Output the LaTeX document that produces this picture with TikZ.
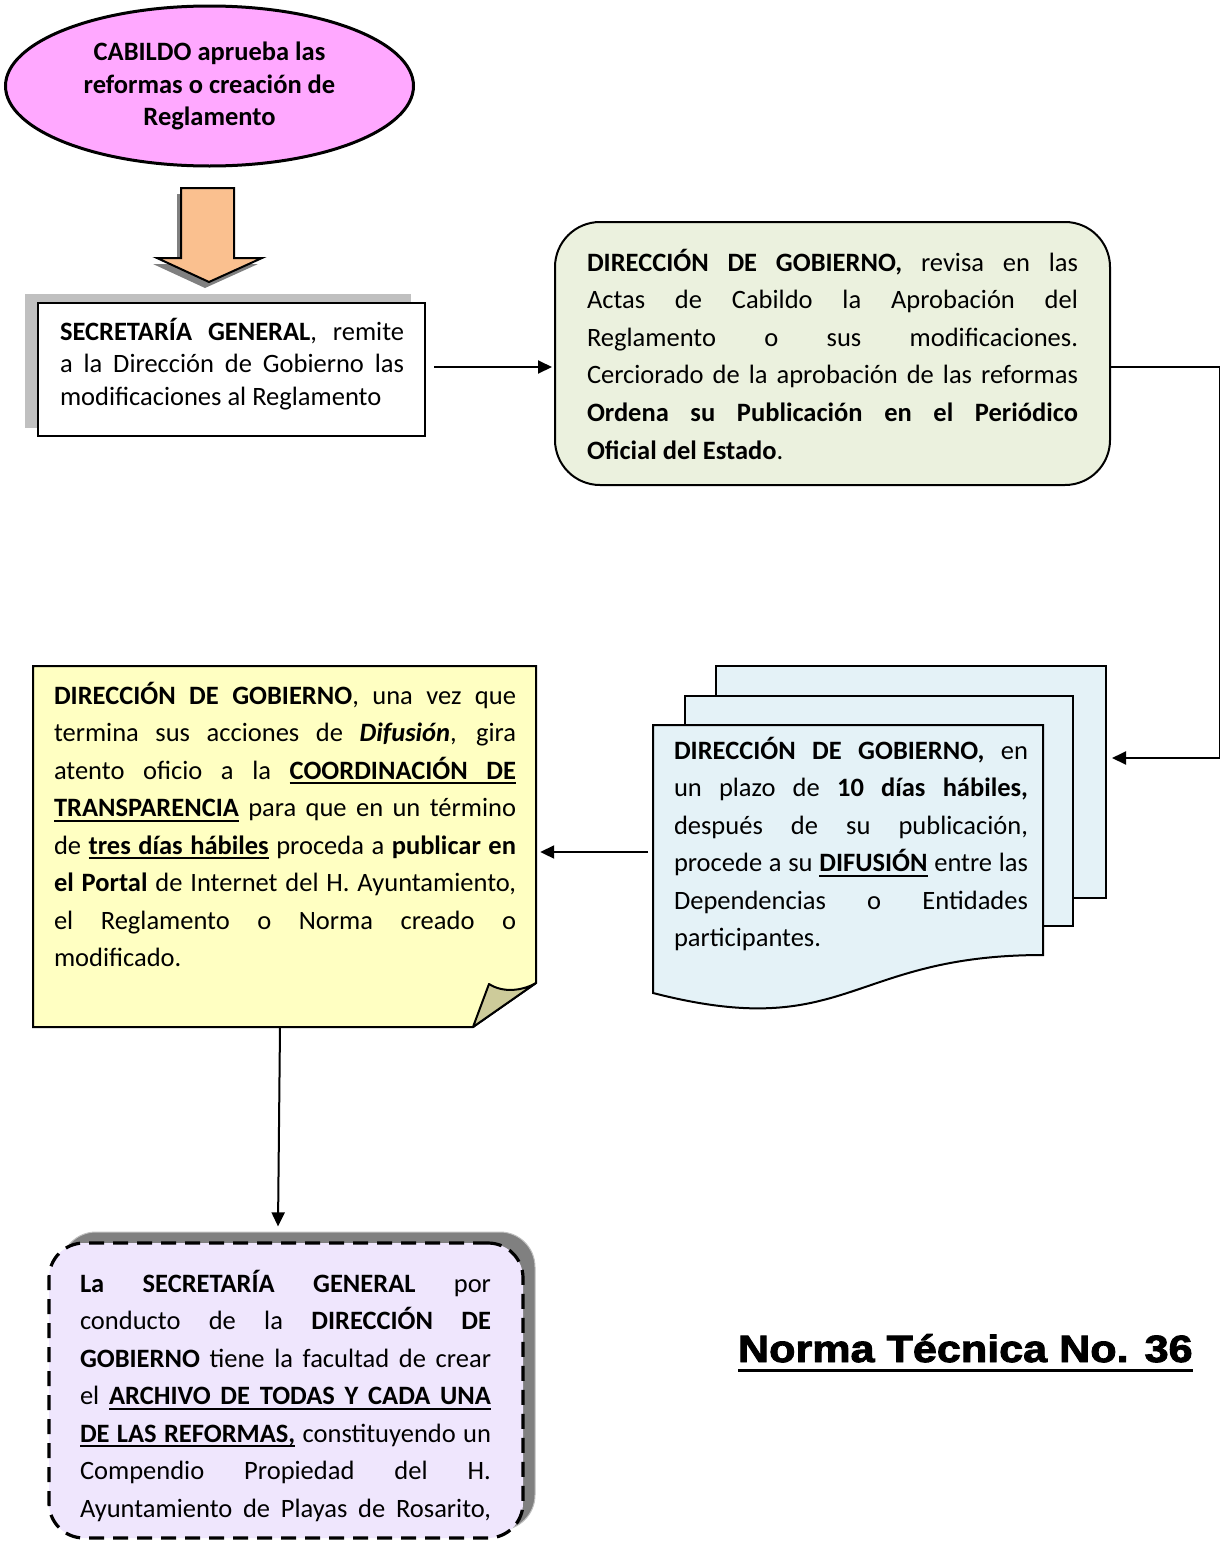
\documentclass[tikz,border=0pt]{standalone}
\usepackage{fontspec}
\setmainfont{Carlito}
\newfontfamily\titlefont[FakeBold=2.5,FakeStretch=1.135]{Liberation Sans Bold}
\usetikzlibrary{shapes.geometric,arrows.meta}
\definecolor{pinkfill}{HTML}{FFA8FF}
\definecolor{peach}{HTML}{FAC08F}
\definecolor{greenfill}{HTML}{EBF1DE}
\definecolor{bluefill}{HTML}{E4F2F7}
\definecolor{yellowfill}{HTML}{FFFFC2}
\definecolor{foldfill}{HTML}{CDCB9A}
\definecolor{lavfill}{HTML}{EFE6FD}
\definecolor{shadowgray}{HTML}{808080}
\definecolor{lightshadow}{HTML}{C0C0C0}
\newcommand\jl[1]{\hbox to \hsize{#1}}
\newcommand\lastl[1]{\hbox{#1}}
\newcommand\para[3]{\vtop{\hsize=#1pt\fontsize{26.5}{#2}\selectfont\lineskiplimit=-100pt #3}}
\newcommand\myul[1]{\setbox0\hbox{#1}\rlap{\vrule height -3pt depth 5pt width \wd0}\box0\relax}
\newcommand\ulsp{\leaders\hrule height -3pt depth 5pt\hskip\fontdimen2\font plus \fontdimen3\font minus \fontdimen4\font\relax}
\tikzset{
  txt/.style={anchor=base west, inner sep=0pt, outer sep=0pt},
  arr/.style={line width=2pt, -{Triangle[length=14pt,width=13pt]}},
  boxline/.style={draw=black, line width=2pt},
  docst/.style={draw=black, line width=2pt, fill=bluefill},
}
\begin{document}
\begin{tikzpicture}[x=1pt,y=-1pt]
\useasboundingbox (0,0) rectangle (1220,1542);

% Ellipse
\node[ellipse, draw=black, line width=3pt, fill=pinkfill, minimum width=408pt,
      minimum height=160pt, inner sep=0pt, align=center,
      font=\bfseries\fontsize{26.5}{32.5}\selectfont] (cab) at (209.5,86)
  {CABILDO aprueba las\\reformas o creación de\\Reglamento};

% Block arrow (shadow + arrow)
\fill[shadowgray] (177,194) -- (230,194) -- (230,264) -- (258,264) -- (205,288)
  -- (153,264) -- (177,264) -- cycle;
\draw[fill=peach, line width=2pt, line join=miter] (181,188) -- (234,188) -- (234,258)
  -- (262,258) -- (209,282) -- (157,258) -- (181,258) -- cycle;

% Secretaria box
\fill[lightshadow] (25,294) rectangle (411,428);
\node[boxline, fill=white, minimum width=387pt, minimum height=133pt, inner sep=0pt]
  (sec) at (231.5,369.5) {};
\node[txt] (sect) at (60,340) {\para{344}{32.5}{%
  \jl{\textbf{SECRETARÍA GENERAL}, remite}
  \jl{a la Dirección de Gobierno las}
  \lastl{modificaciones al Reglamento}}};

% Green box
\node[boxline, fill=greenfill, rounded corners=45pt, minimum width=555pt,
  minimum height=263pt, inner sep=0pt] (gob) at (832.5,353.5) {};
\node[txt] (gobt) at (587,271) {\para{491}{37.6}{%
  \jl{\textbf{DIRECCIÓN DE GOBIERNO,} revisa en las}
  \jl{Actas de Cabildo la Aprobación del}
  \jl{Reglamento o sus modificaciones.}
  \jl{Cerciorado de la aprobación de las reformas}
  \jl{\textbf{Ordena su Publicación en el Periódico}}
  \lastl{\textbf{Oficial del Estado}.}}};

\draw[arr] ([xshift=8pt,yshift=2.5pt]sec.east) -- ([yshift=-13.5pt,xshift=-2pt]gob.west);

% Multi-document
\draw[docst] (716,666) rectangle (1106,898);
\draw[docst] (685,696) rectangle (1073,926);
\draw[docst] (653,725) -- (1043,725) -- (1043,955)
  .. controls (848,955) and (848,1043) .. (653,993) -- cycle;
\node[txt] (doct) at (674,759) {\para{354}{37.5}{%
  \jl{\textbf{DIRECCIÓN DE GOBIERNO,} en}
  \jl{un plazo de \textbf{10 días hábiles,}}
  \jl{después de su publicación,}
  \jl{procede a su \myul{\textbf{DIFUSIÓN}} entre las}
  \jl{Dependencias o Entidades}
  \lastl{participantes.}}};
\coordinate (docin) at (1112,758);
\coordinate (docout) at (648,852);

\draw[arr] ([yshift=-13.5pt]gob.east) -- ++(109,0) |- (docin);

% Note with folded corner
\node[inner sep=0pt, minimum width=503pt, minimum height=361pt] (note) at (284.5,846.5) {};
\draw[line width=2pt, fill=yellowfill, line join=miter] (33,666) -- (536,666) -- (536,983)
  -- (473,1027) -- (33,1027) -- cycle;
\draw[line width=2pt, fill=foldfill, line join=round] (473,1027) -- (489,984)
  .. controls (503,993) and (522,991) .. (536,983) -- cycle;
\node[txt] (notet) at (54,704) {\para{462}{37.5}{%
  \jl{\textbf{DIRECCIÓN DE GOBIERNO}, una vez que}
  \jl{termina sus acciones de \textbf{\textit{Difusión}}, gira}
  \jl{atento oficio a la \textbf{\myul{COORDINACIÓN}\ulsp\myul{DE}}}
  \jl{\myul{\textbf{TRANSPARENCIA}} para que en un término}
  \jl{de \textbf{\myul{tres}\ulsp\myul{días}\ulsp\myul{hábiles}} proceda a \textbf{publicar en}}
  \jl{\textbf{el Portal} de Internet del H. Ayuntamiento,}
  \jl{el Reglamento o Norma creado o}
  \lastl{modificado.}}};

\draw[arr] (docout) -- ([xshift=4pt]docout -| note.east);

% Bottom box
\fill[shadowgray, rounded corners=35pt] (61,1232) rectangle (535,1530);
\draw[lightshadow, line width=1pt, rounded corners=35pt] (61,1232) rectangle (535,1530);
\node[draw=black, line width=3.2pt, dash pattern=on 15pt off 9pt, fill=lavfill,
  rounded corners=35pt, minimum width=474pt, minimum height=295pt, inner sep=0pt]
  (arch) at (286,1390.5) {};
\node[txt] (archt) at (80,1292) {\para{411}{37.5}{%
  \jl{\textbf{La SECRETARÍA GENERAL} por}
  \jl{conducto de la \textbf{DIRECCIÓN DE}}
  \jl{\textbf{GOBIERNO} tiene la facultad de crear}
  \jl{el \textbf{\myul{ARCHIVO}\ulsp\myul{DE}\ulsp\myul{TODAS}\ulsp\myul{Y}\ulsp\myul{CADA}\ulsp\myul{UNA}}}
  \jl{\textbf{\myul{DE}\ulsp\myul{LAS}\ulsp\myul{REFORMAS,}} constituyendo un}
  \jl{Compendio Propiedad del H.}
  \jl{Ayuntamiento de Playas de Rosarito,}}};

\draw[arr] ([xshift=-4.5pt]note.south) -- ([xshift=-8pt,yshift=15pt]arch.north);

% Title
\node[txt, font=\titlefont\fontsize{38}{40}\selectfont] (title) at (738,1362)
  {Norma Técnica No. 36};
\draw[line width=3pt] ([yshift=-8pt]title.base west) -- ([yshift=-8pt]title.base east);
\end{tikzpicture}
\end{document}
